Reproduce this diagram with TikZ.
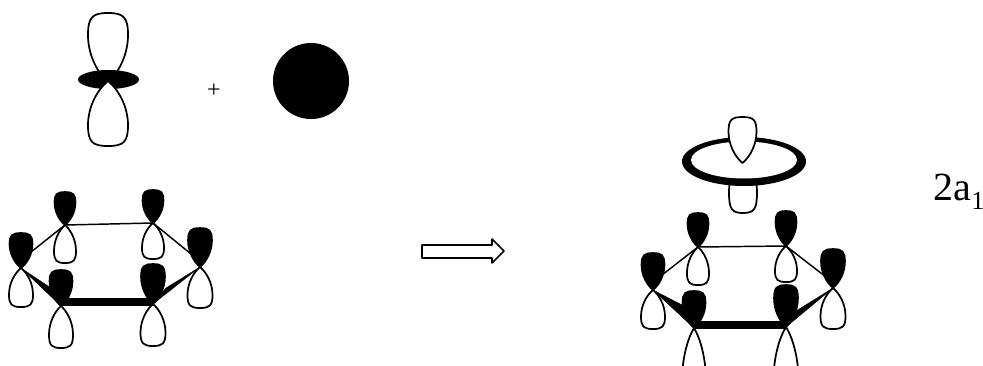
\documentclass[tikz,border=0pt]{standalone}
\usepackage{fontspec}
\setmainfont{Liberation Serif}
\tikzset{
  x=0.75pt,y=-0.75pt,
  openlobe/.style={draw=black,fill=white,line width=1.3pt,line join=round},
  blacklobe/.style={draw=black,fill=black,line width=1.2pt,line join=round},
  thinbond/.style={draw=black,line width=1.1pt},
  solidbond/.style={fill=black,draw=black,line width=0.3pt,line join=round}
}
% \lobe{style}{apex}{half-width}{signed height: positive = up}
\newcommand{\lobe}[4]{%
  \path[#1,shift={(#2)}]
    (0,0) .. controls (-0.55*#3,-0.14*#4) and (-#3,-0.40*#4) .. (-#3,-0.68*#4)
    .. controls (-#3,-0.94*#4) and (-0.78*#3,-#4) .. (0,-#4)
    .. controls (0.78*#3,-#4) and (#3,-0.94*#4) .. (#3,-0.68*#4)
    .. controls (#3,-0.40*#4) and (0.55*#3,-0.14*#4) .. (0,0) -- cycle;}
\newcommand{\hexunit}[1]{%
  \lobe{openlobe}{#1a}{11}{-38}
  \lobe{openlobe}{#1b}{11}{-36}
  \lobe{openlobe}{#1c}{12}{-39}
  \lobe{openlobe}{#1d}{12.5}{-41}
  \draw[thinbond] (#1a) -- (#1b);
  \draw[thinbond] (#1a) -- (#1cs);
  \draw[thinbond] (#1b) -- (#1ds);
  \fill[solidbond] (#1c) -- (#1et) -- (#1e) -- cycle;
  \fill[solidbond] (#1d) -- (#1ft) -- (#1f) -- cycle;
  \fill[solidbond] ([yshift=-1pt]#1e|-#1f) rectangle ([yshift=4.2pt]#1f);
}
\begin{document}
\begin{tikzpicture}
\useasboundingbox (0,0) rectangle (983,365);
\clip (0,0) rectangle (983,365);
% p orbital with ring, top left
\lobe{openlobe}{108,82}{20}{69}
\fill[black] (108.5,79.5) ellipse [x radius=30.5,y radius=9.5];
\lobe{openlobe}{108,81}{20}{-65}
\fill[black] (311,81) circle [radius=38];
\node[font=\fontsize{18pt}{18pt}\selectfont,inner sep=0pt] (plus) at (214,90.5) {+};
% left hexagon
\coordinate (La) at (65,225); \coordinate (Lb) at (153,223);
\coordinate (Lc) at (21,268); \coordinate (Ld) at (200,267);
\coordinate (Le) at (61,306); \coordinate (Lf) at (153,304);
\coordinate (Lcs) at (26,256); \coordinate (Lds) at (196,258);
\coordinate (Let) at (51,288); \coordinate (Lft) at (166,288);
\lobe{openlobe}{Le}{12}{-42}
\lobe{openlobe}{Lf}{12.5}{-42}
\hexunit{L}
\lobe{blacklobe}{La}{10.5}{33}
\lobe{blacklobe}{Lb}{10.5}{33}
\lobe{blacklobe}{Lc}{11.5}{35}
\lobe{blacklobe}{Ld}{12}{39}
\lobe{blacklobe}{Le}{11.5}{36}
\lobe{blacklobe}{Lf}{12}{40}
% block arrow
\draw[line width=1.2pt,line join=round,fill=white] (422,245) -- (492,245) -- (492,239) -- (504,251) -- (492,263) -- (492,258) -- (422,258) -- cycle;
% right ring and orbital
\lobe{openlobe}{743,150}{14}{-63}
\fill[black] (744,161.5) ellipse [x radius=62,y radius=24.5];
\fill[white] (744,160) ellipse [x radius=53,y radius=18.5];
\lobe{openlobe}{742.5,163}{14}{46}
% right hexagon
\coordinate (Ra) at (698,247); \coordinate (Rb) at (786,246);
\coordinate (Rc) at (653,290); \coordinate (Rd) at (833,288);
\coordinate (Re) at (694,328); \coordinate (Rf) at (786,327);
\coordinate (Rcs) at (662,275); \coordinate (Rds) at (826,277);
\coordinate (Ret) at (682,305); \coordinate (Rft) at (796,311);
\lobe{openlobe}{Re}{12}{-78}
\lobe{openlobe}{Rf}{12.5}{-78}
\hexunit{R}
\lobe{blacklobe}{Ra}{10.5}{34}
\lobe{blacklobe}{Rb}{10.5}{35}
\lobe{blacklobe}{Rc}{11.5}{37}
\lobe{blacklobe}{Rd}{12}{39}
\lobe{blacklobe}{Re}{11.5}{37}
\lobe{blacklobe}{Rf}{12}{42}
% label
\node[font=\fontsize{30pt}{30pt}\selectfont,anchor=base west,inner sep=0pt] (label) at (933,200) {2a};
\node[font=\fontsize{19.5pt}{19.5pt}\selectfont,anchor=base west,inner sep=0pt] (sub) at (971,209) {1};
\end{tikzpicture}
\end{document}
